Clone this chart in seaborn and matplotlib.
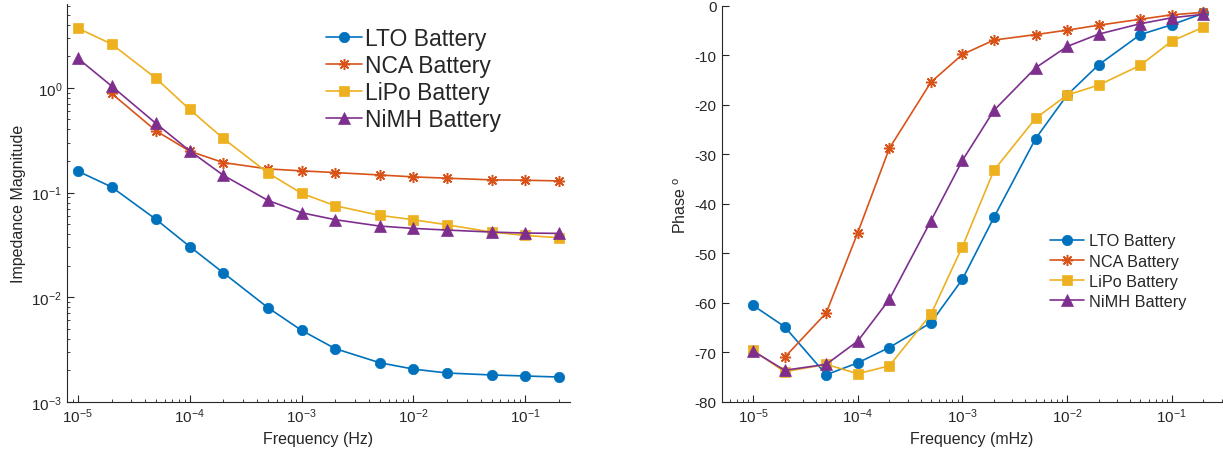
import numpy as np
import pandas as pd
import matplotlib
matplotlib.use("Agg")
import matplotlib.pyplot as plt
import seaborn as sns
from matplotlib.ticker import LogLocator, NullFormatter, MultipleLocator

sns.set_theme(style="ticks")
plt.rcParams['font.family'] = ['Liberation Sans', 'DejaVu Sans']
plt.rcParams['mathtext.fontset'] = 'custom'
plt.rcParams['mathtext.rm'] = 'Liberation Sans'
plt.rcParams['mathtext.it'] = 'Liberation Sans'
plt.rcParams['axes.unicode_minus'] = False

freq = [1e-5, 2e-5, 5e-5, 1e-4, 2e-4, 5e-4, 1e-3, 2e-3, 5e-3, 1e-2, 2e-2, 5e-2, 1e-1, 2e-1]
series_names = ["LTO Battery", "NCA Battery", "LiPo Battery", "NiMH Battery"]

mag_lto = [0.160, 0.113, 0.0554, 0.0305, 0.0171, 0.00796, 0.00483, 0.00323, 0.00237,
           0.00206, 0.00189, 0.00181, 0.00177, 0.00173]
mag_nca = [np.nan, 0.883, 0.388, 0.248, 0.193, 0.168, 0.161, 0.155, 0.147, 0.141,
           0.137, 0.132, 0.131, 0.129]
mag_lipo = [3.70, 2.62, 1.23, 0.621, 0.328, 0.154, 0.0982, 0.0748, 0.0605, 0.0550,
            0.0492, 0.0419, 0.0389, 0.0370]
mag_nimh = [1.91, 1.04, 0.456, 0.250, 0.146, 0.0841, 0.0641, 0.0550, 0.0478, 0.0454,
            0.0438, 0.0419, 0.0410, 0.0407]

ph_lto = [-60.5, -64.8, -74.5, -72.1, -69.0, -64.0, -55.2, -42.7, -26.8, -18.0,
          -11.9, -5.8, -3.8, -1.5]
ph_nca = [np.nan, -71.0, -62.0, -45.8, -28.8, -15.4, -9.8, -6.9, -5.8, -4.9,
          -3.9, -2.7, -1.8, -1.3]
ph_lipo = [-69.6, -73.9, -72.4, -74.3, -72.7, -62.3, -48.6, -33.2, -22.7, -18.0,
           -16.0, -12.0, -7.1, -4.3]
ph_nimh = [-69.7, -73.6, -72.4, -67.7, -59.3, -43.4, -31.2, -21.1, -12.5, -8.2,
           -5.7, -3.6, -2.4, -1.7]

colors = ["#0072BD", "#D95319", "#EDB120", "#7E2F8E"]
markers = ["o", (8, 2, 0), "s", "^"]
msizes = [7.5, 8, 6.5, 8]

mags = [mag_lto, mag_nca, mag_lipo, mag_nimh]
phases = [ph_lto, ph_nca, ph_lipo, ph_nimh]

fig = plt.figure(figsize=(12.23, 4.6), dpi=100)
ax1 = fig.add_axes([0.0548, 0.124, 0.411, 0.865])
ax2 = fig.add_axes([0.590, 0.124, 0.409, 0.861])

for i, (name, c, m, ms, mag, ph) in enumerate(zip(series_names, colors, markers, msizes, mags, phases)):
    df = pd.DataFrame({"f": freq, "mag": mag, "ph": ph}).dropna()
    mk = dict(marker=m, markersize=ms, markeredgecolor=c, markerfacecolor=c,
              markeredgewidth=1.1 if i == 1 else 0.5)
    sns.lineplot(data=df, x="f", y="mag", ax=ax1, color=c, linewidth=1.2,
                 label=name, **mk)
    sns.lineplot(data=df, x="f", y="ph", ax=ax2, color=c, linewidth=1.2,
                 label=name, **mk)

for ax in (ax1, ax2):
    ax.set_xscale("log")
    ax.xaxis.set_major_locator(LogLocator(base=10, numticks=20))
    ax.xaxis.set_minor_locator(LogLocator(base=10, subs=np.arange(2, 10), numticks=20))
    ax.xaxis.set_minor_formatter(NullFormatter())
    for s in ("top", "right"):
        ax.spines[s].set_visible(False)
    for s in ("left", "bottom"):
        ax.spines[s].set_color("#262626")
        ax.spines[s].set_linewidth(0.8)
    ax.tick_params(which="major", direction="in", length=5, width=0.8,
                   labelsize=11, colors="#262626")
    ax.tick_params(which="minor", direction="in", length=2.5, width=0.6,
                   colors="#262626")
    ax.grid(False)

ax1.set_yscale("log")
ax1.yaxis.set_major_locator(LogLocator(base=10, numticks=10))
ax1.yaxis.set_minor_locator(LogLocator(base=10, subs=np.arange(2, 10), numticks=10))
ax1.yaxis.set_minor_formatter(NullFormatter())
ax1.set_xlim(8e-6, 0.25)
ax1.set_ylim(1e-3, 6.3)
ax1.set_xlabel("Frequency (Hz)", fontsize=11.5, color="#262626")
ax1.set_ylabel("Impedance Magnitude", fontsize=11.5, color="#262626")

ax2.set_xlim(5e-6, 0.3)
ax2.set_ylim(-80, 0)
ax2.yaxis.set_major_locator(MultipleLocator(10))
ax2.set_xlabel("Frequency (mHz)", fontsize=11.5, color="#262626")
ax2.set_ylabel("Phase $^{\\mathrm{o}}$", fontsize=11.5, color="#262626")

leg1 = ax1.legend(loc="upper left", bbox_to_anchor=(0.497, 0.965), frameon=False,
                  fontsize=16.5, handlelength=1.55, handletextpad=0.17,
                  labelspacing=0.17, borderaxespad=0)
leg2 = ax2.legend(loc="center left", bbox_to_anchor=(0.643, 0.33), frameon=False,
                  fontsize=11.7, handlelength=2.1, handletextpad=0.3,
                  labelspacing=0.32, borderaxespad=0)

fig.savefig("out.png", dpi=100)
